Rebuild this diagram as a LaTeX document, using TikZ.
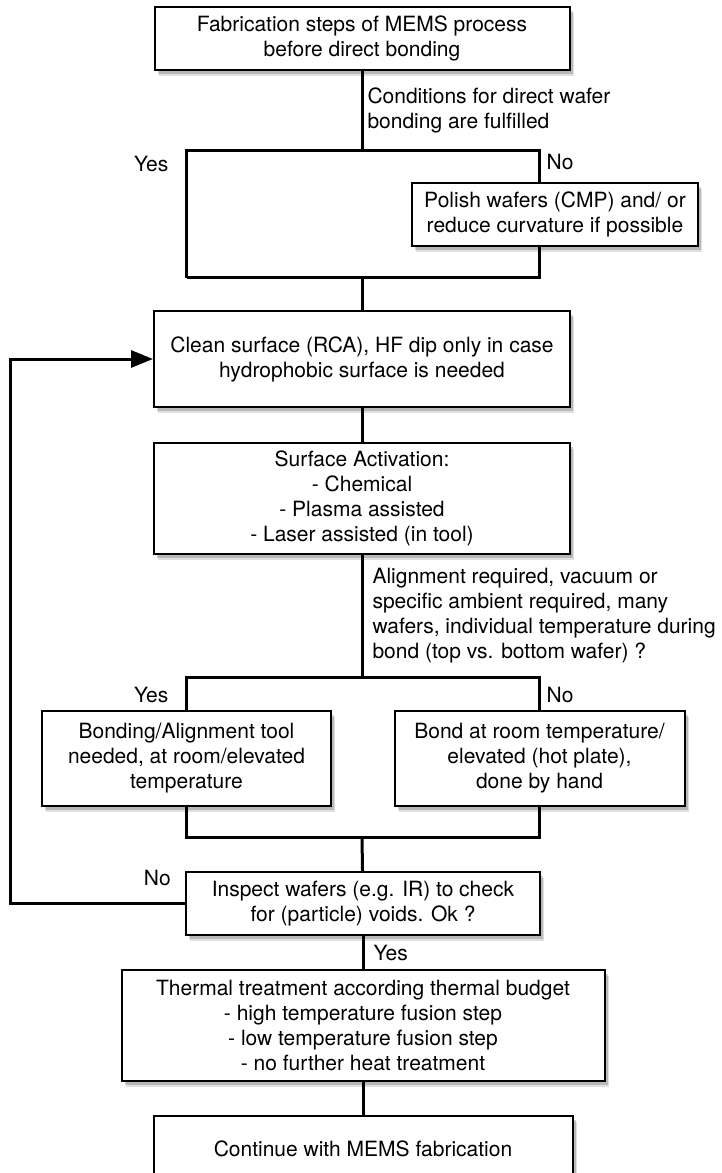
\documentclass[tikz,border=0pt]{standalone}
\usepackage{fontspec}
\setmainfont{TeX Gyre Heros}
\usepackage{tikz}
\usetikzlibrary{arrows.meta, positioning, shadows}
\tikzstyle{procnode} = [rectangle, draw=black, line width=2pt, fill=white, align=center, inner sep=4pt, drop shadow={shadow xshift=4pt, shadow yshift=-6pt, opacity=0.12, fill=black}, drop shadow={shadow xshift=3pt, shadow yshift=-4pt, opacity=0.18, fill=black}]
\tikzstyle{link} = [line width=3pt, black]
\tikzstyle{arrow} = [link, -{Triangle[length=22pt,width=17pt]}]
\tikzstyle{lbl} = [inner sep=4pt, align=left]

\begin{document}
\begin{tikzpicture}[font=\fontsize{21pt}{25pt}\selectfont, node distance=33pt]

    \useasboundingbox (0,0) rectangle (722pt,-1173pt);

    \coordinate (colL) at (186.5pt,0);
    \coordinate (colR) at (539.5pt,0);
    \coordinate (back) at (10pt,0);
    \coordinate (s1) at (362pt,-150pt);
    \coordinate (j1) at (362pt,-277.5pt);
    \coordinate (s2) at (362pt,-677pt);
    \coordinate (j2) at (362pt,-837pt);

    \node (fab) [procnode, minimum width=415pt, minimum height=63pt] at (362pt,-38.5pt) {Fabrication steps of MEMS process\\before direct bonding};
    \node (polish) [procnode, minimum width=286pt, minimum height=63pt] at (555pt,-214.5pt) {Polish wafers (CMP) and/ or\\reduce curvature if possible};
    \node (clean) [procnode, minimum width=416pt, minimum height=96pt, below=239pt of fab] {Clean surface (RCA), HF dip only in case\\hydrophobic surface is needed};
    \node (act) [procnode, minimum width=416pt, minimum height=111pt, below=34pt of clean] {Surface Activation:\\- Chemical\\- Plasma assisted\\- Laser assisted (in tool)};
    \node (align) [procnode, minimum width=289pt, minimum height=95pt] at (186.5pt,-758.5pt) {Bonding/Alignment tool\\needed, at room/elevated\\temperature};
    \node (hand) [procnode, minimum width=290pt, minimum height=95pt] at (539.5pt,-758.5pt) {Bond at room temperature/\\elevated (hot plate),\\done by hand};
    \node (inspect) [procnode, minimum width=354pt, minimum height=63pt] at (363pt,-903.5pt) {Inspect wafers (e.g. IR) to check\\for (particle) voids. Ok ?};
    \node (thermal) [procnode, minimum width=483pt, minimum height=111pt, below=of inspect] {Thermal treatment according thermal budget\\- high temperature fusion step\\- low temperature fusion step\\- no further heat treatment};
    \node (final) [procnode, minimum width=419pt, minimum height=65pt, below=of thermal] {Continue with MEMS fabrication};

    \node (yes1) [lbl, anchor=east, xshift=-14pt, yshift=-14pt] at (s1 -| colL) {Yes};
    \node (no1) [lbl, anchor=west, xshift=3pt, yshift=-12pt] at (s1 -| colR) {No};
    \node (yes2) [lbl, anchor=east, xshift=-14pt, yshift=-18pt] at (s2 -| colL) {Yes};
    \node (no2) [lbl, anchor=west, xshift=3pt, yshift=-18pt] at (s2 -| colR) {No};
    \node (no3) [lbl, anchor=east, xshift=-10pt, yshift=26pt] at (inspect.west) {No};

    \draw [link] (fab) -- node [lbl, right] {Conditions for direct wafer\\bonding are fulfilled} (s1);
    \draw [link] (j1 -| colL) |- (s1 -| colR) -- (polish.north -| colR);
    \draw [link] (polish.south -| colR) |- (j1 -| colL);
    \draw [link] (j1) -- (clean);
    \draw [link] (clean) -- (act);
    \draw [link] (act) -- node [lbl, right, xshift=5pt] {Alignment required, vacuum or\\specific ambient required, many\\wafers, individual temperature during\\bond (top vs. bottom wafer) ?} (s2);
    \draw [link] (align.north) |- (s2 -| colR) -- (hand.north);
    \draw [link] (align.south) |- (j2 -| colR) -- (hand.south);
    \draw [link] (j2) -- (inspect);
    \draw [link] (inspect) -- node [lbl, right, xshift=5pt] {Yes} (thermal);
    \draw [link] (thermal) -- (final);
    \draw [arrow] (inspect.west) -- (inspect.west -| back) |- (clean.west);

\end{tikzpicture}
\end{document}
